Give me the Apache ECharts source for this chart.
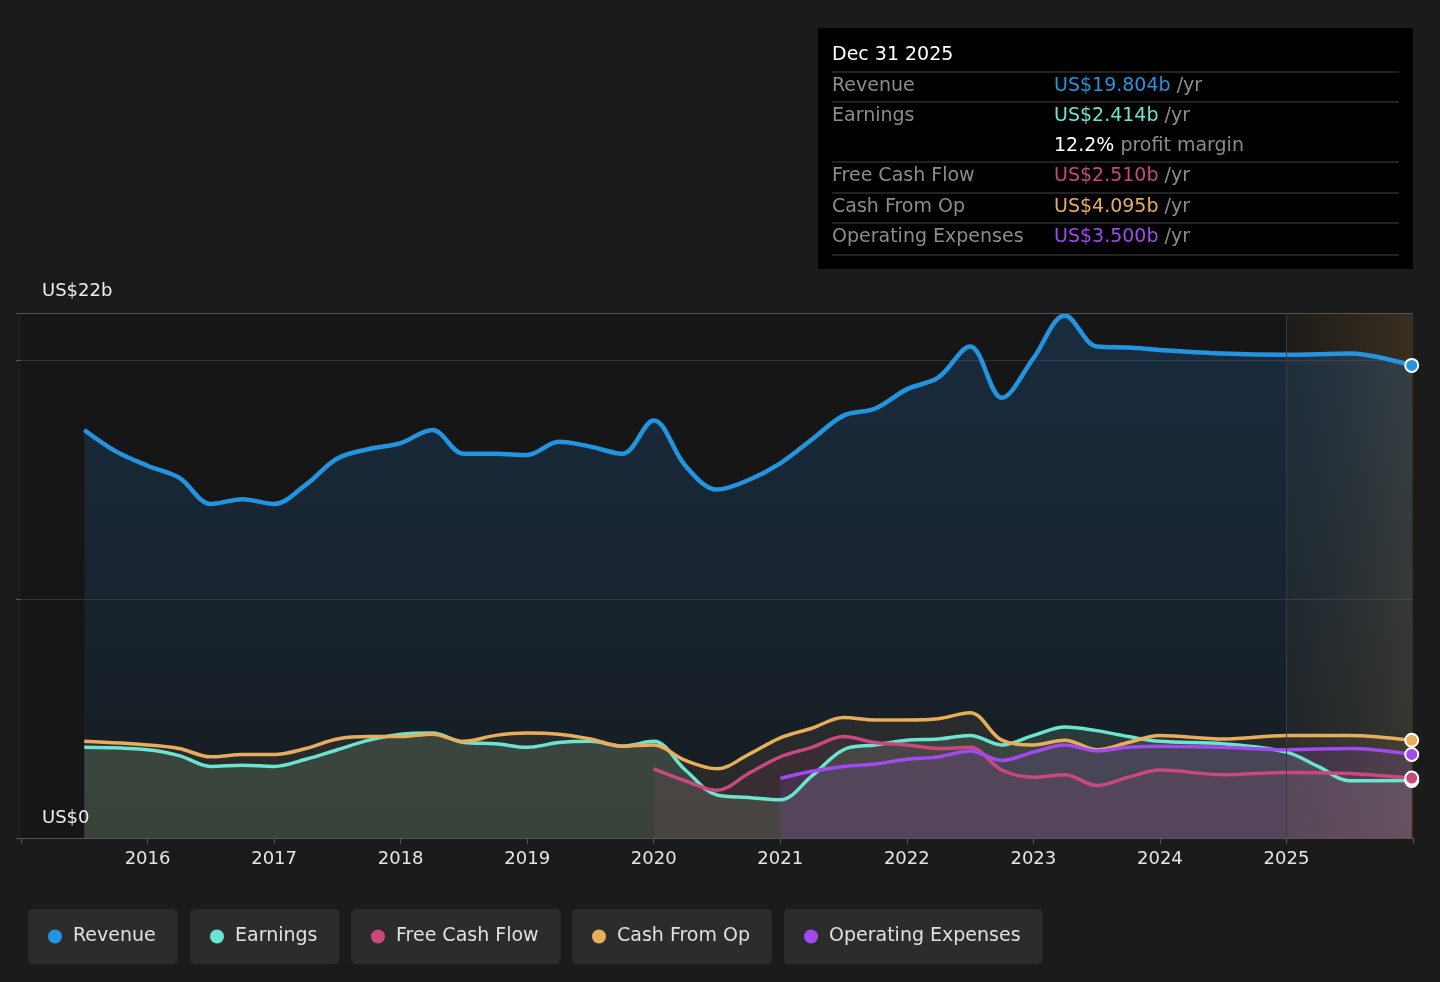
<!DOCTYPE html>
<html>
<head>
<meta charset="utf-8">
<script src="https://cdn.jsdelivr.net/npm/echarts@6/dist/echarts.min.js"></script>
<style>
  html, body { margin: 0; padding: 0; background: #1b1b1b; }
  #chart { width: 1440px; height: 982px; }
</style>
</head>
<body>
<div id="chart"></div>
<script>
'use strict';
// quarters, in decimal years
const revX = [2015.5,2015.75,2016,2016.25,2016.5,2016.75,2017,2017.25,2017.5,2017.75,2018,2018.25,2018.5,2018.75,2019,2019.25,2019.5,2019.75,2020,2020.25,2020.5,2020.75,2021,2021.25,2021.5,2021.75,2022,2022.25,2022.5,2022.75,2023,2023.25,2023.5,2023.75,2024,2024.5,2025,2025.5,2025.99];
const revenue = [17.1,16.2,15.6,15.1,14.0,14.2,14.0,14.8,15.9,16.3,16.55,17.1,16.1,16.1,16.05,16.6,16.4,16.1,17.5,15.6,14.6,15.0,15.7,16.7,17.7,18.0,18.8,19.3,20.6,18.45,20.1,21.9,20.6,20.55,20.45,20.3,20.25,20.3,19.804];
const earnX = [2015.5,2016,2016.25,2016.5,2016.75,2017,2017.25,2017.5,2017.75,2018,2018.25,2018.5,2018.75,2019,2019.25,2019.5,2019.75,2020,2020.25,2020.5,2020.75,2021,2021.25,2021.5,2021.75,2022,2022.25,2022.5,2022.75,2023,2023.25,2023.5,2023.75,2024,2024.5,2025,2025.25,2025.5,2025.99];
const earnings = [3.8,3.7,3.45,3.0,3.05,3.0,3.3,3.7,4.1,4.35,4.4,4.0,3.95,3.8,4.0,4.05,3.85,4.05,2.85,1.8,1.7,1.6,2.6,3.7,3.9,4.1,4.15,4.3,3.9,4.3,4.65,4.5,4.25,4.05,3.95,3.6,3.0,2.4,2.414];
const cfoX = [2015.5,2016,2016.25,2016.5,2016.75,2017,2017.25,2017.5,2017.75,2018,2018.25,2018.5,2018.75,2019,2019.25,2019.5,2019.75,2020,2020.25,2020.5,2020.75,2021,2021.25,2021.5,2021.75,2022,2022.25,2022.5,2022.75,2023,2023.25,2023.5,2023.75,2024,2024.5,2025,2025.5,2025.99];
const cashFromOp = [4.05,3.9,3.75,3.4,3.5,3.5,3.75,4.15,4.25,4.25,4.35,4.05,4.3,4.4,4.35,4.15,3.85,3.9,3.25,2.9,3.5,4.2,4.6,5.05,4.95,4.95,5.0,5.25,4.1,3.9,4.1,3.7,4.0,4.3,4.15,4.3,4.3,4.095];
const fcfX = [2020,2020.25,2020.5,2020.75,2021,2021.25,2021.5,2021.75,2022,2022.25,2022.5,2022.75,2023,2023.25,2023.5,2023.75,2024,2024.5,2025,2025.5,2025.99];
const freeCashFlow = [2.9,2.4,2.0,2.7,3.4,3.8,4.25,4.0,3.9,3.75,3.8,2.85,2.55,2.65,2.2,2.55,2.85,2.65,2.75,2.7,2.51];
const opexX = [2021,2021.25,2021.5,2021.75,2022,2022.25,2022.5,2022.75,2023,2023.25,2023.5,2023.75,2024,2024.5,2025,2025.5,2025.99];
const opex = [2.5,2.8,3.0,3.1,3.3,3.4,3.65,3.25,3.6,3.9,3.65,3.8,3.85,3.8,3.7,3.75,3.5];
const yearTicks = [2016,2017,2018,2019,2020,2021,2022,2023,2024,2025];

const names = ['Revenue','Earnings','Free Cash Flow','Cash From Op','Operating Expenses'];
const colors = ['#2394df','#6ce5d0','#c9497f','#e9ae5b','#a04af0'];

function pairs(xs, ys, color) {
  return xs.map((x, i) => {
    const d = { value: [x, ys[i]] };
    if (i === xs.length - 1) {
      d.symbol = 'circle';
      d.symbolSize = 13;
      d.itemStyle = { color: color, borderColor: '#fff', borderWidth: 2 };
    }
    return d;
  });
}

function grad(c0, c1) {
  return new echarts.graphic.LinearGradient(0, 0, 0, 1, [
    { offset: 0, color: c0 }, { offset: 1, color: c1 }]);
}

const chart = echarts.init(document.getElementById('chart'));

const seriesDefs = [
  [revX, revenue, 4.5, grad('rgba(35,120,200,0.32)', 'rgba(35,120,200,0.08)')],
  [earnX, earnings, 3.5, 'rgba(120,180,150,0.28)'],
  [fcfX, freeCashFlow, 3.5, 'rgba(200,80,130,0.15)'],
  [cfoX, cashFromOp, 3.5, 'rgba(200,160,100,0.14)'],
  [opexX, opex, 3.5, 'rgba(150,80,220,0.22)']
];

const series = seriesDefs.map((s, i) => ({
  name: names[i],
  type: 'line',
  smooth: 0.35,
  symbol: 'none',
  showSymbol: true,
  z: i === 0 ? 2 : 3,
  lineStyle: { width: s[2], color: colors[i] },
  itemStyle: { color: colors[i] },
  areaStyle: { color: s[3], origin: 'start' },
  data: pairs(s[0], s[1], colors[i])
}));

series[0].markArea = {
  silent: true,
  itemStyle: { color: new echarts.graphic.LinearGradient(0, 0, 1, 0, [
    { offset: 0, color: 'rgba(90,70,40,0.12)' }, { offset: 1, color: 'rgba(110,85,50,0.4)' }]) },
  data: [[{ xAxis: 2025, yAxis: 0 }, { xAxis: 2026, yAxis: 22 }]]
};
series[0].markLine = {
  silent: true, symbol: 'none', label: { show: false },
  lineStyle: { color: '#555', type: 'solid', width: 1 },
  data: [{ yAxis: 22 }, { xAxis: 2025, lineStyle: { color: '#3a3a3a' } }]
};

const legendLeft = [28, 190, 351, 572, 784];
const legends = names.map((n, i) => ({
  data: [n],
  left: legendLeft[i],
  top: 909,
  padding: [18, 22, 18, 20],
  backgroundColor: '#2c2c2c',
  borderRadius: 5,
  icon: 'circle',
  itemWidth: 14,
  itemHeight: 14,
  itemGap: 10,
  textStyle: { color: '#e0e0e0', fontSize: 19, fontFamily: 'DejaVu Sans', padding: [0, 0, 0, 6] },
  selectedMode: false
}));

// tooltip-like panel
const rows = [
  ['Revenue', 'US$19.804b', colors[0], ' /yr', 86],
  ['Earnings', 'US$2.414b', colors[1], ' /yr', 116],
  ['', '12.2%', '#ffffff', ' profit margin', 146],
  ['Free Cash Flow', 'US$2.510b', colors[2], ' /yr', 176],
  ['Cash From Op', 'US$4.095b', colors[3], ' /yr', 207],
  ['Operating Expenses', 'US$3.500b', colors[4], ' /yr', 237]
];
const panel = [
  { type: 'rect', shape: { x: 818, y: 28, width: 595, height: 241 }, style: { fill: '#000' } },
  { type: 'text', x: 832, y: 55, style: { text: 'Dec 31 2025', fill: '#fff', font: '19px DejaVu Sans', textVerticalAlign: 'middle' } }
];
[72, 102, 162, 193, 223, 255].forEach(y => panel.push({
  type: 'line', shape: { x1: 832, y1: y, x2: 1399, y2: y }, style: { stroke: '#444', lineWidth: 1 }
}));
rows.forEach(r => {
  panel.push({ type: 'text', x: 832, y: r[4], style: { text: r[0], fill: '#8c8c8c', font: '19px DejaVu Sans', textVerticalAlign: 'middle' } });
  panel.push({ type: 'text', x: 1054, y: r[4], style: {
    text: '{v|' + r[1] + '}{u|' + r[3] + '}', textVerticalAlign: 'middle',
    rich: { v: { fill: r[2], font: '19px DejaVu Sans' }, u: { fill: '#8c8c8c', font: '19px DejaVu Sans' } } } });
});

chart.setOption({
  backgroundColor: '#1b1b1b',
  animation: false,
  grid: { left: 21, right: 27, top: 313, bottom: 144, backgroundColor: '#161616', show: true, borderWidth: 0 },
  legend: legends,
  xAxis: {
    type: 'value', min: 2015, max: 2026, interval: 1,
    axisLine: { show: true, lineStyle: { color: '#555' } },
    axisTick: { show: true, length: 6, lineStyle: { color: '#555' } },
    splitLine: { show: false },
    axisLabel: {
      color: '#e6e6e6', fontSize: 18, fontFamily: 'DejaVu Sans', margin: 12,
      formatter: v => yearTicks.indexOf(v) >= 0 ? String(v) : ''
    }
  },
  yAxis: {
    type: 'value', min: 0, max: 22, interval: 10,
    axisLabel: { show: false },
    axisLine: { show: false },
    splitLine: { lineStyle: { color: '#333' } }
  },
  graphic: panel.concat([
    { type: 'text', x: 42, y: 291, style: { text: 'US$22b', fill: '#eee', font: '18px DejaVu Sans', textVerticalAlign: 'middle' } },
    { type: 'text', x: 42, y: 818, z: 100, style: { text: 'US$0', fill: '#eee', font: '18px DejaVu Sans', textVerticalAlign: 'middle' } }
  ]),
  series: series
});
</script>
</body>
</html>
